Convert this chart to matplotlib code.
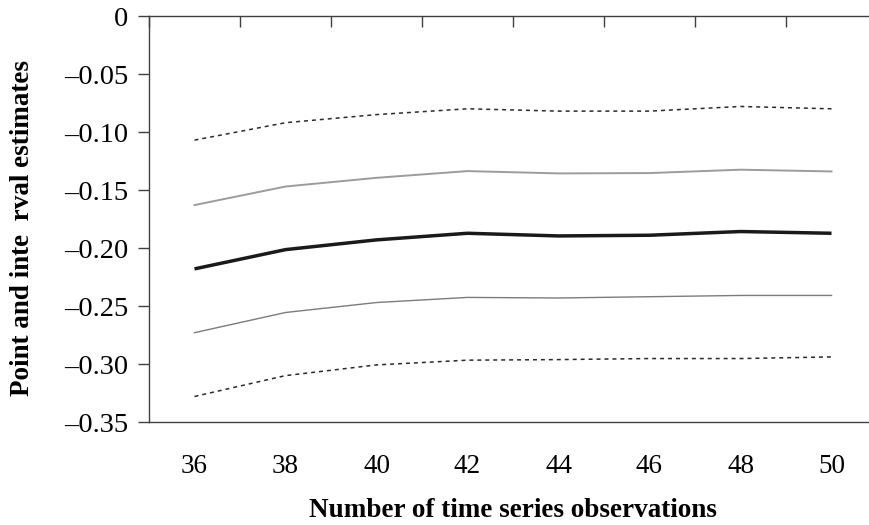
import matplotlib
matplotlib.use("Agg")
import matplotlib.pyplot as plt
import numpy as np

# Data
categories = ["36", "38", "40", "42", "44", "46", "48", "50"]
upper_dotted = [-0.107, -0.092, -0.085, -0.080, -0.082, -0.082, -0.078, -0.080]
upper_gray = [-0.163, -0.147, -0.1395, -0.1337, -0.1357, -0.1354, -0.1325, -0.134]
point_est = [-0.218, -0.2014, -0.193, -0.1873, -0.1896, -0.189, -0.1858, -0.1873]
lower_gray = [-0.273, -0.2556, -0.247, -0.2426, -0.2431, -0.242, -0.2409, -0.2409]
lower_dotted = [-0.328, -0.310, -0.3008, -0.2967, -0.2962, -0.2953, -0.2953, -0.2939]
ytick_vals = [0, -0.05, -0.10, -0.15, -0.20, -0.25, -0.30, -0.35]
ytick_labels = ["0", "–0.05", "–0.10", "–0.15", "–0.20", "–0.25", "–0.30", "–0.35"]

plt.rcParams['font.family'] = ['Liberation Serif', 'DejaVu Serif']

W, H = 869, 525
fig = plt.figure(figsize=(W / 100, H / 100), dpi=100)
left, right, top, bottom = 149, 877, 16, 422
ax = fig.add_axes([left / W, 1 - bottom / H, (right - left) / W, (bottom - top) / H])

x = np.arange(len(categories))
ax.plot(x, upper_dotted, color="#2a2a2a", lw=1.1, dashes=(2.6, 2.6))
ax.plot(x, upper_gray, color="#9c9c9c", lw=1.4)
ax.plot(x, point_est, color="#1a1a1a", lw=2.5, solid_capstyle="butt")
ax.plot(x, lower_gray, color="#7c7c7c", lw=1.0)
ax.plot(x, lower_dotted, color="#2a2a2a", lw=1.1, dashes=(2.6, 2.6))

ax.set_xlim(-0.5, len(categories) - 0.5)
ax.set_ylim(-0.35, 0)

spine_col = "#404040"
for s in ["left", "top", "bottom"]:
    ax.spines[s].set_color(spine_col)
    ax.spines[s].set_linewidth(1.0)
ax.spines["right"].set_visible(False)

ax.set_xticks(x)
ax.set_xticklabels(categories)
ax.set_xticks(np.arange(len(categories) + 1) - 0.5, minor=True)
ax.tick_params(axis="x", which="major", length=0, pad=23, labelsize=19.5, bottom=True, top=False)
ax.tick_params(axis="x", which="minor", top=True, bottom=False, direction="in", length=8,
               width=1.0, color=spine_col)

ax.set_yticks(ytick_vals)
ax.set_yticklabels(ytick_labels)
ax.tick_params(axis="y", which="major", direction="out", length=8, width=1.0, color=spine_col,
               pad=7, labelsize=20.5)

ax.set_xlabel("Number of time series observations", fontsize=19.5, fontweight="bold", labelpad=14)
ax.set_ylabel("Point and inte  rval estimates", fontsize=19.5, fontweight="bold")
ax.yaxis.set_label_coords((35 - left) / (right - left), 1 - (228 - top) / (bottom - top))

fig.savefig("out.png", dpi=100)
